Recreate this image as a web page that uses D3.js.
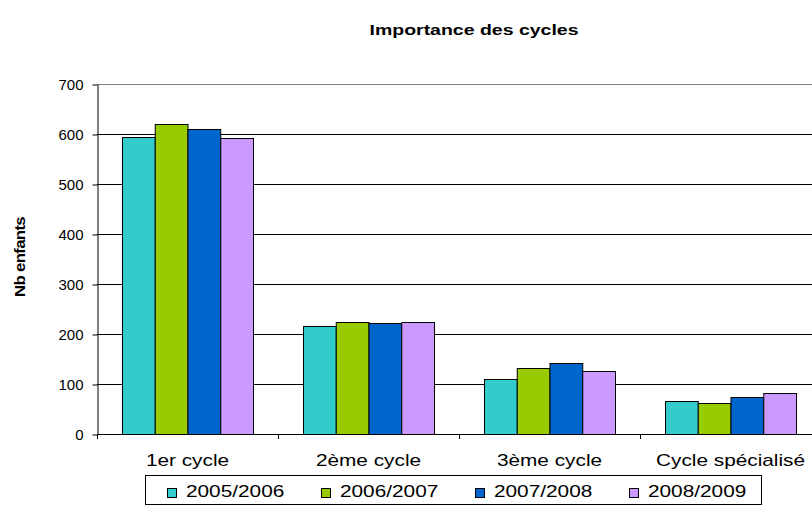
<!DOCTYPE html>
<html>
<head>
<meta charset="utf-8">
<script src="https://cdn.jsdelivr.net/npm/d3@7/dist/d3.min.js"></script>
<style>
  html, body { margin: 0; padding: 0; background: #fff; }
  svg { display: block; font-family: "Liberation Sans", Arial, sans-serif; }
</style>
</head>
<body>
<svg id="chart" width="812" height="505"></svg>
<script>
const title = "Importance des cycles";
const yTitle = "Nb enfants";
const categories = ["1er cycle", "2ème cycle", "3ème cycle", "Cycle spécialisé"];
const seriesNames = ["2005/2006", "2006/2007", "2007/2008", "2008/2009"];
const s2005 = [595, 217, 110, 67];
const s2006 = [620, 225, 132, 62];
const s2007 = [610, 222, 142, 74];
const s2008 = [592, 225, 127, 83];
const seriesValues = [s2005, s2006, s2007, s2008];
const colors = ["#33CCCC", "#99CC00", "#0066CC", "#CC99FF"];
const yTicks = [0, 100, 200, 300, 400, 500, 600, 700];

const svg = d3.select("#chart");
const plotLeft = 97, plotTop = 84, plotBottom = 434, catStep = 181;
const plotRight = plotLeft + catStep * categories.length;

const y = d3.scaleLinear().domain([0, 700]).range([plotBottom, plotTop]);
const x0 = d3.scaleBand().domain(categories).range([plotLeft, plotRight]).padding(0);
const x1 = d3.scaleBand().domain(seriesNames).range([25, catStep - 25]).padding(0);

// gridlines
svg.append("g").selectAll("line").data(yTicks.filter(d => d > 0)).join("line")
  .attr("x1", plotLeft).attr("x2", 812)
  .attr("y1", d => Math.round(y(d)) + 0.5).attr("y2", d => Math.round(y(d)) + 0.5)
  .attr("stroke", d => d === 700 ? "#808080" : "#000").attr("stroke-width", 1);

// bars
const rows = categories.map((c, i) => ({cat: c, vals: seriesNames.map((s, j) => ({s, j, v: seriesValues[j][i]}))}));
svg.append("g").selectAll("g").data(rows).join("g")
  .attr("transform", d => `translate(${x0(d.cat)},0)`)
  .selectAll("rect").data(d => d.vals).join("rect")
  .attr("x", d => x1(d.s) + 0.5)
  .attr("y", d => Math.round(y(d.v)) + 0.5)
  .attr("width", x1.bandwidth())
  .attr("height", d => Math.round(y(0)) - Math.round(y(d.v)))
  .attr("fill", d => colors[d.j])
  .attr("stroke", "#000").attr("stroke-width", 1);

// y axis
const yAxis = d3.axisLeft(y).tickValues(yTicks).tickSize(5).tickPadding(9).tickSizeOuter(0);
const gy = svg.append("g").attr("transform", `translate(${plotLeft + 0.5},0.5)`).call(yAxis);
gy.select(".domain").attr("stroke", "#000");
gy.selectAll(".tick line").attr("stroke", "#000");
gy.selectAll(".tick text").attr("font-size", 15).attr("fill", "#000")
  .attr("font-family", "Liberation Sans, Arial, sans-serif");

// x axis
const xBoundary = d3.scaleLinear().domain([0, categories.length]).range([plotLeft, plotRight]);
const gx = svg.append("g");
gx.append("line").attr("x1", plotLeft).attr("x2", 812)
  .attr("y1", Math.round(y(0)) + 0.5).attr("y2", Math.round(y(0)) + 0.5).attr("stroke", "#000");
gx.selectAll("line.tk").data(d3.range(categories.length + 1)).join("line").attr("class", "tk")
  .attr("x1", d => Math.round(xBoundary(d)) + 0.5).attr("x2", d => Math.round(xBoundary(d)) + 0.5)
  .attr("y1", Math.round(y(0))).attr("y2", Math.round(y(0)) + 5).attr("stroke", "#000");
gx.selectAll("text").data(categories).join("text")
  .attr("transform", d => `translate(${x0(d) + x0.bandwidth() / 2},466) scale(1.3,1)`)
  .attr("text-anchor", "middle").attr("font-size", 16).attr("fill", "#000").text(d => d);

// title
svg.append("text").attr("transform", "translate(474,35) scale(1.3,1)")
  .attr("text-anchor", "middle").attr("font-size", 15).attr("font-weight", "bold").text(title);

// y title
svg.append("text").attr("transform", "translate(25,257) rotate(-90) scale(1.12,1)")
  .attr("text-anchor", "middle").attr("font-size", 15).attr("font-weight", "bold")
  .attr("letter-spacing", -0.6).text(yTitle);

// legend
const lg = svg.append("g");
lg.append("rect").attr("x", 145.5).attr("y", 475.5).attr("width", 616).attr("height", 29)
  .attr("fill", "#fff").attr("stroke", "#000");
const items = lg.selectAll("g").data(seriesNames).join("g")
  .attr("transform", (d, i) => `translate(${167 + i * 154},0)`);
items.append("rect").attr("x", 0.5).attr("y", 488.5).attr("width", 9).attr("height", 9)
  .attr("fill", (d, i) => colors[i]).attr("stroke", "#000");
items.append("text").attr("transform", "translate(19,497) scale(1.3,1)")
  .attr("font-size", 16).attr("fill", "#000").text(d => d);
</script>
</body>
</html>
